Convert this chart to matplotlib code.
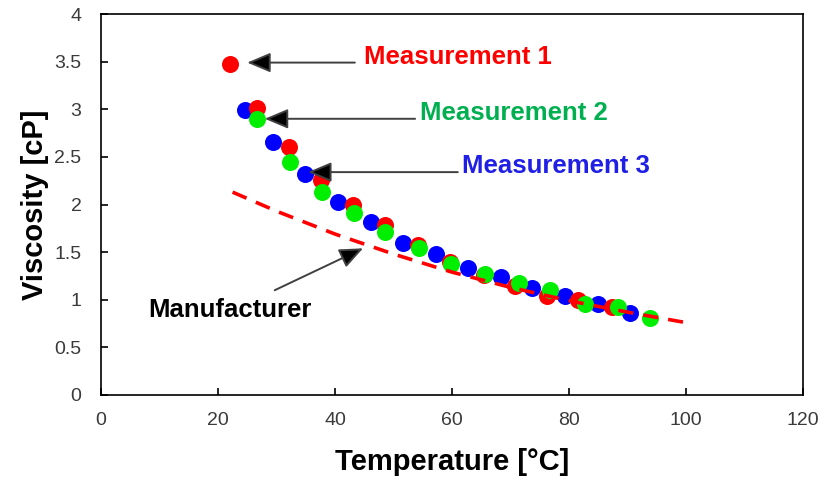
import matplotlib
matplotlib.use("Agg")
import matplotlib.pyplot as plt
from matplotlib.ticker import FuncFormatter, MultipleLocator

plt.rcParams['font.family'] = ['Liberation Sans', 'DejaVu Sans']

# Measurement 1 (red)
m1_temp = [22.1, 26.6, 32.1, 37.6, 43.1, 48.5, 54.2, 59.7, 65.4, 70.8, 76.2, 81.6, 87.3]
m1_visc = [3.475, 3.01, 2.60, 2.26, 1.99, 1.785, 1.575, 1.40, 1.26, 1.14, 1.04, 1.00, 0.92]

# Measurement 2 (green)
m2_temp = [26.6, 32.3, 37.7, 43.2, 48.5, 54.4, 59.9, 65.6, 71.5, 76.8, 82.7, 88.4, 93.8]
m2_visc = [2.90, 2.45, 2.13, 1.91, 1.71, 1.54, 1.375, 1.27, 1.18, 1.10, 0.96, 0.92, 0.805]

# Measurement 3 (blue)
m3_temp = [24.6, 29.4, 34.8, 40.6, 46.1, 51.6, 57.3, 62.8, 68.3, 73.6, 79.3, 85.0, 90.4]
m3_visc = [2.99, 2.66, 2.32, 2.03, 1.82, 1.60, 1.48, 1.33, 1.24, 1.12, 1.04, 0.955, 0.86]

# Manufacturer curve (red dashed)
mf_temp = [22.5, 30, 40, 50, 60, 70, 80, 90, 100]
mf_visc = [2.13, 1.93, 1.69, 1.48, 1.29, 1.13, 0.99, 0.87, 0.76]

x_ticks = [0, 20, 40, 60, 80, 100, 120]

fig = plt.figure(figsize=(8.25, 4.8), dpi=100)
ax = fig.add_axes([0.1224, 0.1771, 0.8509, 0.7937])

ms = 150
ax.scatter(m3_temp, m3_visc, s=ms, color='#0000FF', linewidths=0, zorder=2)
ax.scatter(m1_temp, m1_visc, s=ms, color='#FF0000', linewidths=0, zorder=3)
ax.scatter(m2_temp, m2_visc, s=ms, color='#00EE00', linewidths=0, zorder=4)
ax.plot(mf_temp, mf_visc, color='#FF0000', lw=2.6, dashes=(4.2, 2.8),
        solid_capstyle='butt', dash_capstyle='butt', zorder=5)

ax.set_xlim(0, 120)
ax.set_ylim(0, 4)
ax.set_xticks(x_ticks)
ax.yaxis.set_major_locator(MultipleLocator(0.5))
ax.yaxis.set_major_formatter(FuncFormatter(lambda v, p: f"{v:g}"))
ax.tick_params(direction='in', length=5, width=1.2, labelsize=14,
               labelcolor='#3A3A3A')
ax.tick_params(axis='y', pad=14)
ax.tick_params(axis='x', pad=12)
for s in ax.spines.values():
    s.set_linewidth(1.2)
    s.set_color('black')

ax.set_xlabel('Temperature [°C]', fontsize=21, fontweight='bold', labelpad=14)
ax.set_ylabel('Viscosity [cP]', fontsize=21, fontweight='bold', labelpad=4)

arrow_kw = dict(arrowstyle='-|>,head_length=0.9,head_width=0.38', color='#404040',
                lw=1.4, shrinkA=0, shrinkB=0, mutation_scale=16)

def annot(text, color, text_xy, tail, head):
    ax.text(text_xy[0], text_xy[1], text, color=color, fontsize=18.5,
            fontweight='bold', ha='left', va='center', zorder=6)
    a = ax.annotate('', xy=head, xytext=tail, arrowprops=arrow_kw, zorder=6)
    a.arrow_patch.set_facecolor('black')
    a.arrow_patch.set_edgecolor('#404040')

annot('Measurement 1', '#FF0000', (45.0, 3.55), (43.4, 3.49), (25.0, 3.49))
annot('Measurement 2', '#00B050', (54.5, 2.96), (53.7, 2.90), (28.0, 2.90))
annot('Measurement 3', '#1F1FE6', (61.7, 2.40), (61.0, 2.34), (35.4, 2.34))
annot('Manufacturer', '#000000', (8.0, 0.89), (29.7, 1.10), (44.8, 1.54))

fig.savefig('out.png', dpi=100)
